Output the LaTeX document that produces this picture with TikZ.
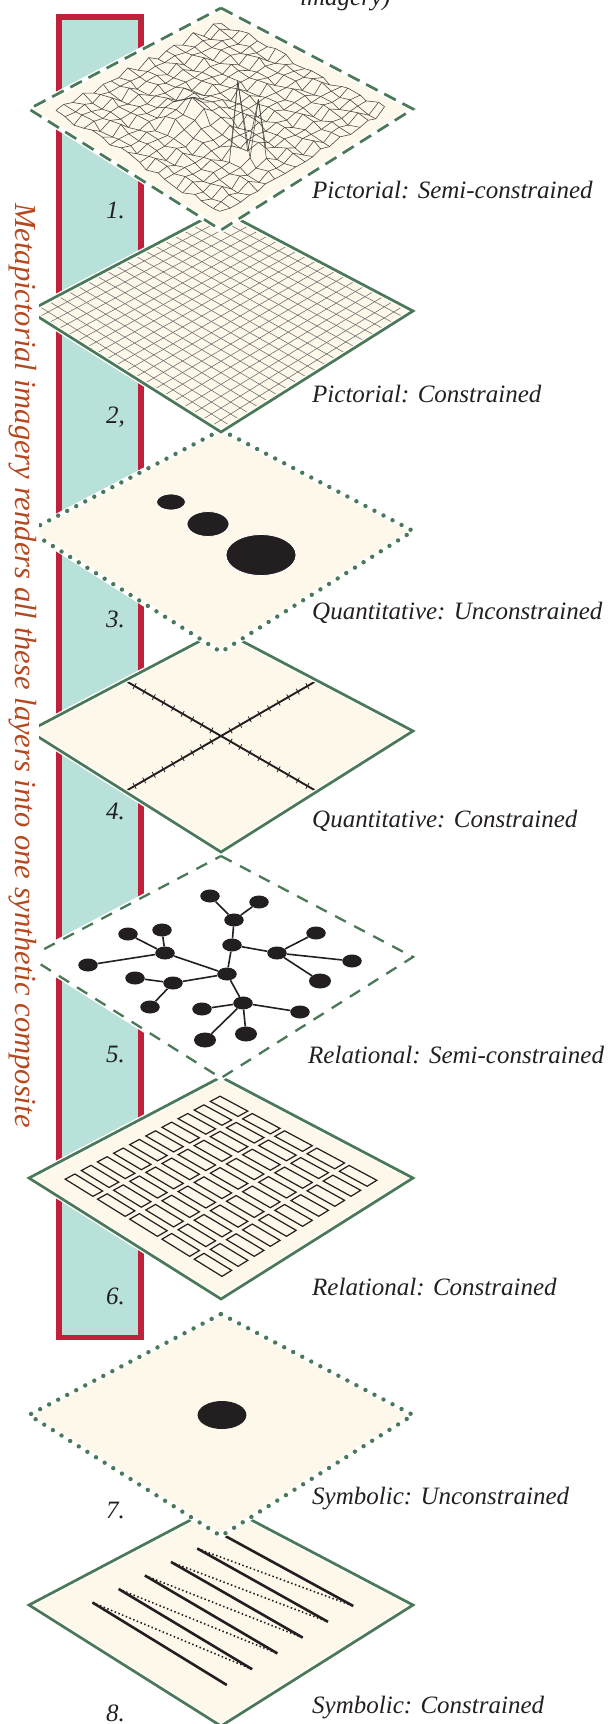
\documentclass[tikz,border=0pt]{standalone}
\usepackage{fontspec}
\setmainfont{Liberation Serif}
\usetikzlibrary{shapes.geometric,calc}
\definecolor{dgreen}{HTML}{4A7858}
\definecolor{cream}{HTML}{FDF8E9}
\definecolor{tealb}{HTML}{B8E1D9}
\definecolor{barred}{HTML}{C0203A}
\definecolor{ink}{HTML}{231F20}
\definecolor{rust}{HTML}{B5481E}
\newcommand\dpath[1]{(221,#1-101) -- (413,#1) -- (221,#1+121) -- (29,#1) -- cycle}
\begin{document}
\begin{tikzpicture}[x=1pt,y=-1pt,
  declare function={
    px(\qa,\qb)=221+192*(\qa-\qb);
    py(\qc,\qa,\qb)=\qc-101+101*(\qa+\qb)+20*(\qa)*(\qb);
    mu(\qa)=0.07+0.86*(\qa)/18;
    bump(\qa,\qb,\qc)=exp(max(-9,-((\qa)*(\qa)+(\qb)*(\qb))/(\qc)));
    mxa(\qa,\qb)=px(mu(\qa),mu(\qb))+1.6*sin(173*\qa+59*\qb+20);
    mya(\qa,\qb)=py(109,mu(\qa),mu(\qb))+2.4*sin(97*\qa+213*\qb)+2*sin(331*\qa-157*\qb+40)-18*bump(\qa-8,\qb-11,4)-72*bump(\qa-14,\qb-12,0.3)-58*bump(\qa-15,\qb-11,0.3);
  },
  outl/.style={draw=dgreen, line width=2.7, line join=miter},
  dashout/.style={outl, dash pattern=on 13 off 7.5},
  dashoutb/.style={outl, line width=2.3, dash pattern=on 12 off 9.5},
  dotout/.style={outl, line width=4.4, line cap=round, dash pattern=on 0 off 10.2},
  halo/.style={draw=white, line width=5.5},
  gridl/.style={draw=black!58, line width=0.55},
  meshl/.style={draw=ink!85, line width=0.55, line join=round},
  rectl/.style={draw=ink, line width=1.2},
  gn/.style={ellipse, fill=ink, inner sep=0, minimum width=19.5, minimum height=13},
  gnb/.style={gn, minimum width=22, minimum height=15},
  gedge/.style={draw=ink, line width=1.6},
  lab/.style={anchor=base west, inner sep=0, text=ink, font=\fontsize{25}{30}\selectfont\itshape},
  num/.style={anchor=base east, inner sep=0, text=ink, font=\fontsize{25}{30}\selectfont\itshape},
]
\useasboundingbox (0,0) rectangle (612,1724);

% bar
\draw[draw=barred, fill=tealb, line width=5.5] (58.75,16.75) rectangle (140.85,1337.25);

% ---- D8 symbolic constrained
\fill[cream] \dpath{1605};
\foreach \k in {0,...,5}{
  \coordinate (s\k a) at (223.5-26.2*\k, 1535+13.5*\k);
  \coordinate (s\k b) at (353.3-25.3*\k, 1606+15.8*\k);
}
\foreach \k [evaluate=\k as \kn using int(\k+1)] in {0,...,4}{
  \draw[ink, line width=1.6, dash pattern=on 1.5 off 2.5] (s\kn a) -- (s\k b);
}
\foreach \k in {0,...,5}{
  \draw[ink, line width=2.6] (s\k a) -- (s\k b);
}
\draw[halo] \dpath{1605};
\draw[outl] \dpath{1605};

% ---- D7 symbolic unconstrained
\fill[cream] \dpath{1415};
\fill[ink] (222,1415) ellipse [x radius=24.4pt, y radius=14pt];
\draw[halo] \dpath{1415};
\draw[dotout] \dpath{1415};

% ---- D6 relational constrained
\fill[cream] \dpath{1178};
\foreach \i in {0,...,4}{\foreach \j in {0,...,9}{
  \pgfmathsetmacro\ua{0.08+0.168*(\i+0.07)}
  \pgfmathsetmacro\ub{0.08+0.168*(\i+0.93)}
  \pgfmathsetmacro\va{0.08+0.084*(\j+0.2)}
  \pgfmathsetmacro\vb{0.08+0.084*(\j+0.8)}
  \draw[rectl] ({px(\ua,\va)},{py(1178,\ua,\va)}) -- ({px(\ub,\va)},{py(1178,\ub,\va)}) -- ({px(\ub,\vb)},{py(1178,\ub,\vb)}) -- ({px(\ua,\vb)},{py(1178,\ua,\vb)}) -- cycle;
}}
\draw[halo] \dpath{1178};
\draw[outl] \dpath{1178};

\begin{scope}
\clip (39,0) rectangle (612,1724);
% ---- D5 relational semi-constrained
\fill[white] \dpath{957};
\node[gn] (n1) at (210,896) {};
\node[gn] (n2) at (259,902) {};
\node[gn] (n3) at (234,920) {};
\node[gn] (n4) at (232,945) {};
\node[gn] (n5) at (277,953) {};
\node[gn] (n6) at (316,933) {};
\node[gn] (n7) at (352,961) {};
\node[gnb] (n8) at (320,981) {};
\node[gn] (n9) at (227,974) {};
\node[gn] (n10) at (165,953) {};
\node[gn] (n11) at (128,934) {};
\node[gn] (n12) at (162,930) {};
\node[gn] (n13) at (88,965) {};
\node[gn] (n14) at (173,983) {};
\node[gn] (n15) at (135,978) {};
\node[gn] (n16) at (150,1007) {};
\node[gn] (n17) at (243,1003) {};
\node[gn] (n18) at (202,1009) {};
\node[gn] (n19) at (300,1012) {};
\node[gnb] (n20) at (246,1034) {};
\node[gnb] (n21) at (205,1040) {};
\foreach \p/\q in {n1/n3,n2/n3,n3/n4,n4/n5,n5/n6,n5/n7,n5/n8,n4/n9,n9/n10,n10/n11,n10/n12,n10/n13,n9/n14,n14/n15,n14/n16,n9/n17,n17/n18,n17/n19,n17/n20,n17/n21}
  \draw[gedge] (\p) -- (\q);
\draw[halo] \dpath{957};
\draw[dashoutb] \dpath{957};

% ---- D4 quantitative constrained
\fill[cream] \dpath{731};
\draw[ink, line width=1.9] ({px(0.5,0)},{py(731,0.5,0)}) -- ({px(0.5,1)},{py(731,0.5,1)});
\draw[ink, line width=1.9] ({px(0,0.5)},{py(731,0,0.5)}) -- ({px(1,0.5)},{py(731,1,0.5)});
\foreach \k in {1,...,9,11,12,...,19}{
  \draw[ink, line width=0.8] ($({px(0.5,\k/20)},{py(731,0.5,\k/20)})+(1.6,2.8)$) -- ($({px(0.5,\k/20)},{py(731,0.5,\k/20)})-(1.6,2.8)$);
  \draw[ink, line width=0.8] ($({px(\k/20,0.5)},{py(731,\k/20,0.5)})+(-1.6,2.8)$) -- ($({px(\k/20,0.5)},{py(731,\k/20,0.5)})-(-1.6,2.8)$);
}
\draw[halo] \dpath{731};
\draw[outl] \dpath{731};

% ---- D3 quantitative unconstrained
\fill[cream] \dpath{531};
\filldraw[fill=ink, draw=white, line width=0.8] (171,502) ellipse [x radius=14.5pt, y radius=8pt];
\filldraw[fill=ink, draw=white, line width=0.8] (208,524) ellipse [x radius=21pt, y radius=12.5pt];
\filldraw[fill=ink, draw=white, line width=0.8] (261,555) ellipse [x radius=35pt, y radius=20.5pt];
\draw[halo] \dpath{531};
\draw[dotout] \dpath{531};

% ---- D2 pictorial constrained
\fill[cream] \dpath{311};
\foreach \k in {1,...,19}{
  \draw[gridl] ({px(\k/20,0)},{py(311,\k/20,0)}) -- ({px(\k/20,1)},{py(311,\k/20,1)});
  \draw[gridl] ({px(0,\k/20)},{py(311,0,\k/20)}) -- ({px(1,\k/20)},{py(311,1,\k/20)});
}
\draw[halo] \dpath{311};
\draw[outl] \dpath{311};
\end{scope}

% ---- D1 pictorial semi-constrained
\fill[cream] \dpath{109};
\foreach \i in {0,...,18}{
  \draw[meshl] plot[variable=\t, samples=19, domain=0:18] ({mxa(\i,\t)},{mya(\i,\t)});
  \draw[meshl] plot[variable=\t, samples=19, domain=0:18] ({mxa(\t,\i)},{mya(\t,\i)});
}
\draw[halo] \dpath{109};
\draw[dashout] \dpath{109};

% ---- texts
\node[lab] (top) at (300,5) {imagery)};
\node[anchor=base west, rotate=-90, inner sep=0, text=rust, font=\fontsize{30.6}{36}\selectfont\itshape] (vert) at (15,203) {Metapictorial imagery renders all these layers into one synthetic composite};

\node[lab] (l1) at (312,198) {Pictorial: Semi-constrained};
\node[lab] (l2) at (312,402) {Pictorial: Constrained};
\node[lab] (l3) at (312,619) {Quantitative: Unconstrained};
\node[lab] (l4) at (312,827) {Quantitative: Constrained};
\node[lab] (l5) at (308,1063) {Relational: Semi-constrained};
\node[lab] (l6) at (312,1295) {Relational: Constrained};
\node[lab] (l7) at (312,1504) {Symbolic: Unconstrained};
\node[lab] (l8) at (312,1713) {Symbolic: Constrained};

\node[num] (m1) at (125,218) {1.};
\node[num] (m2) at (125,423) {2,};
\node[num] (m3) at (125,627) {3.};
\node[num] (m4) at (125,819) {4.};
\node[num] (m5) at (125,1062) {5.};
\node[num] (m6) at (125,1304) {6.};
\node[num] (m7) at (125,1518) {7.};
\node[num] (m8) at (125,1721) {8.};
\end{tikzpicture}
\end{document}
